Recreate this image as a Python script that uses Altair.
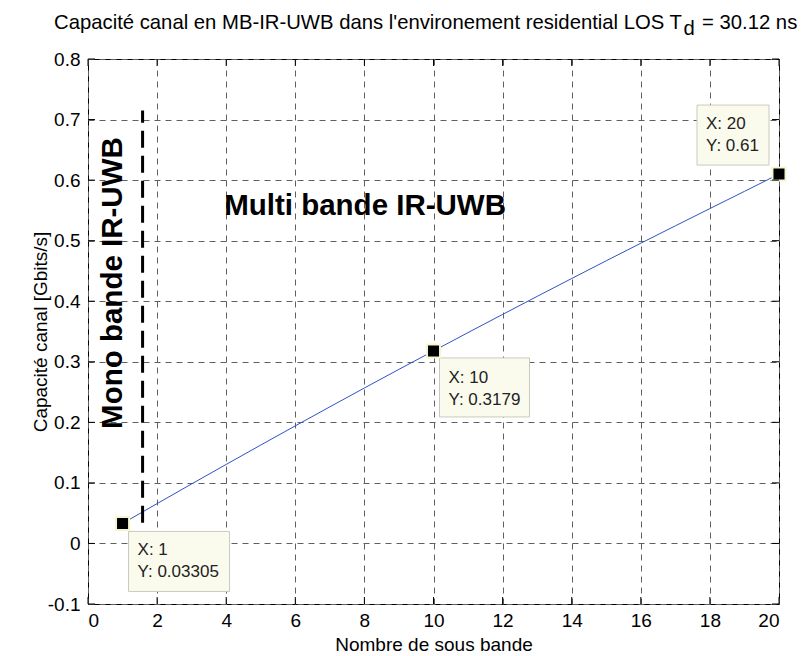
import altair as alt
import pandas as pd

# ---------------- data ----------------
n_bands = list(range(1, 21))
capacity = [0.03305, 0.0658, 0.0983, 0.1305, 0.1625, 0.1942, 0.2256, 0.2567, 0.2875, 0.3179,
            0.3482, 0.3782, 0.4080, 0.4375, 0.4668, 0.4958, 0.5245, 0.5530, 0.5814, 0.61]

tip_x = [1, 10, 20]
tip_y = [0.03305, 0.3179, 0.61]
tip_line1 = ["X: 1", "X: 10", "X: 20"]
tip_line2 = ["Y: 0.03305", "Y: 0.3179", "Y: 0.61"]

x_ticks = [0, 2, 4, 6, 8, 10, 12, 14, 16, 18, 20]
y_ticks = [-0.1, 0.0, 0.1, 0.2, 0.3, 0.4, 0.5, 0.6, 0.7, 0.8]

sep_x = [1.58, 1.58]
sep_y = [0.034, 0.715]

title_main = "Capacité canal en MB-IR-UWB dans l'environement residential LOS T"
title_sub = "d"
title_end = "= 30.12 ns"
x_title = "Nombre de sous bande"
y_title = "Capacité canal [Gbits/s]"
multi_label = "Multi bande IR-UWB"
mono_label = "Mono bande IR-UWB"

W, H = 691, 545
FONT = "Liberation Sans"
FS = 17      # data tip text
AFS = 19     # axis labels / titles
TFS = 20.3   # chart title

xs = alt.Scale(domain=[0, 20], nice=False, zero=False)
ys = alt.Scale(domain=[-0.1, 0.8], nice=False, zero=False)

df_line = pd.DataFrame({"x": n_bands, "y": capacity})
df_tips = pd.DataFrame({"x": tip_x, "y": tip_y, "l1": tip_line1, "l2": tip_line2})
df_sep = pd.DataFrame({"x": sep_x, "y": sep_y})
df_xt = pd.DataFrame({"v": x_ticks})
df_yt = pd.DataFrame({"v": y_ticks})

ylabel_expr = ("datum.value == 0 ? '0' : (datum.value < 0 ? '-' + format(-datum.value, '.1f') "
               ": format(datum.value, '.1f'))")

base = alt.Chart(df_line).mark_line(color="#2f52c8", strokeWidth=1).encode(
    x=alt.X("x:Q", scale=xs,
            axis=alt.Axis(values=x_ticks, title=x_title, grid=True, ticks=False, domain=False,
                          labelPadding=7, titlePadding=5, format="d")),
    y=alt.Y("y:Q", scale=ys,
            axis=alt.Axis(values=y_ticks, title=y_title, grid=True, ticks=False, domain=False,
                          labelPadding=8, labelExpr=ylabel_expr,
                          titleX=-48, titleY=H / 2, titleAngle=270,
                          titleAlign="center", titleBaseline="middle")),
)

sep = alt.Chart(df_sep).mark_line(color="black", strokeWidth=3, strokeDash=[17, 8]).encode(
    x=alt.X("x:Q", scale=xs), y=alt.Y("y:Q", scale=ys))

multi = alt.Chart(pd.DataFrame({"x": [8.02], "y": [0.557], "t": [multi_label]})).mark_text(
    font=FONT, fontSize=29.5, fontWeight="bold", color="black", align="center", baseline="middle"
).encode(x=alt.X("x:Q", scale=xs), y=alt.Y("y:Q", scale=ys), text="t:N")

mono = alt.Chart(pd.DataFrame({"x": [0.72], "y": [0.43], "t": [mono_label]})).mark_text(
    font=FONT, fontSize=29.5, fontWeight="bold", color="black", align="center", baseline="middle",
    angle=270
).encode(x=alt.X("x:Q", scale=xs), y=alt.Y("y:Q", scale=ys), text="t:N")

tip_geo = [
    # box dx1, dx2, dy1, dy2, text dx, dy1, dy2
    (6, 107, 8, 68, 15, 32, 54),
    (6, 96, 7, 66, 15, 32, 54),
    (-82, -10, -69, -9, -73, -45, -23),
]
tip_layers = []
for i, (bx1, bx2, by1, by2, tdx, tdy1, tdy2) in enumerate(tip_geo):
    d = df_tips.iloc[[i]]
    tip_layers.append(
        alt.Chart(d).mark_rect(fill="#fbfbed", stroke="#c9c9c0", strokeWidth=1,
                               xOffset=bx1, x2Offset=bx2, yOffset=by1, y2Offset=by2).encode(
            x=alt.X("x:Q", scale=xs), x2="x", y=alt.Y("y:Q", scale=ys), y2="y"))
    tip_layers.append(
        alt.Chart(d).mark_text(font=FONT, fontSize=FS, color="#222222", align="left",
                               baseline="alphabetic", dx=tdx, dy=tdy1).encode(
            x=alt.X("x:Q", scale=xs), y=alt.Y("y:Q", scale=ys), text="l1:N"))
    tip_layers.append(
        alt.Chart(d).mark_text(font=FONT, fontSize=FS, color="#222222", align="left",
                               baseline="alphabetic", dx=tdx, dy=tdy2).encode(
            x=alt.X("x:Q", scale=xs), y=alt.Y("y:Q", scale=ys), text="l2:N"))

markers = alt.Chart(df_tips).mark_square(size=170, fill="black", stroke="#f5f5cf",
                                         strokeWidth=2, opacity=1).encode(
    x=alt.X("x:Q", scale=xs), y=alt.Y("y:Q", scale=ys))

# inward ticks on all four sides (MATLAB box style)
tb = alt.Chart(df_xt).mark_rule(color="black", strokeWidth=1).encode(
    x=alt.X("v:Q", scale=xs), y=alt.value(H), y2=alt.value(H - 7))
tt = alt.Chart(df_xt).mark_rule(color="black", strokeWidth=1).encode(
    x=alt.X("v:Q", scale=xs), y=alt.value(0), y2=alt.value(7))
tl = alt.Chart(df_yt).mark_rule(color="black", strokeWidth=1).encode(
    y=alt.Y("v:Q", scale=ys), x=alt.value(0), x2=alt.value(7))
tr = alt.Chart(df_yt).mark_rule(color="black", strokeWidth=1).encode(
    y=alt.Y("v:Q", scale=ys), x=alt.value(W), x2=alt.value(W - 7))

df_title = pd.DataFrame({"a": [title_main], "b": [title_sub], "c": [title_end]})
t1 = alt.Chart(df_title).mark_text(font=FONT, fontSize=TFS, color="black", align="right",
                                   baseline="alphabetic", x=594, y=-30).encode(text="a:N")
t2 = alt.Chart(df_title).mark_text(font=FONT, fontSize=TFS, color="black", align="left",
                                   baseline="alphabetic", x=595.5, y=-24).encode(text="b:N")
t3 = alt.Chart(df_title).mark_text(font=FONT, fontSize=TFS, color="black", align="left",
                                   baseline="alphabetic", x=614, y=-30).encode(text="c:N")

chart = alt.layer(
    base, sep, multi, mono, *tip_layers, markers, tb, tt, tl, tr, t1, t2, t3
).properties(
    width=W, height=H,
    background="white",
    autosize=alt.AutoSizeParams(type="none"),
    padding={"left": 80, "top": 51, "right": 22, "bottom": 52},
).configure_view(
    stroke="black", strokeWidth=1
).configure_axis(
    labelFont=FONT, labelFontSize=AFS, labelColor="black",
    titleFont=FONT, titleFontSize=AFS, titleFontWeight="normal", titleColor="black",
    gridColor="#606060", gridDash=[6, 5], gridWidth=1, gridOpacity=1,
)

chart.save("out.html", embed_options={"renderer": "svg", "actions": False})
